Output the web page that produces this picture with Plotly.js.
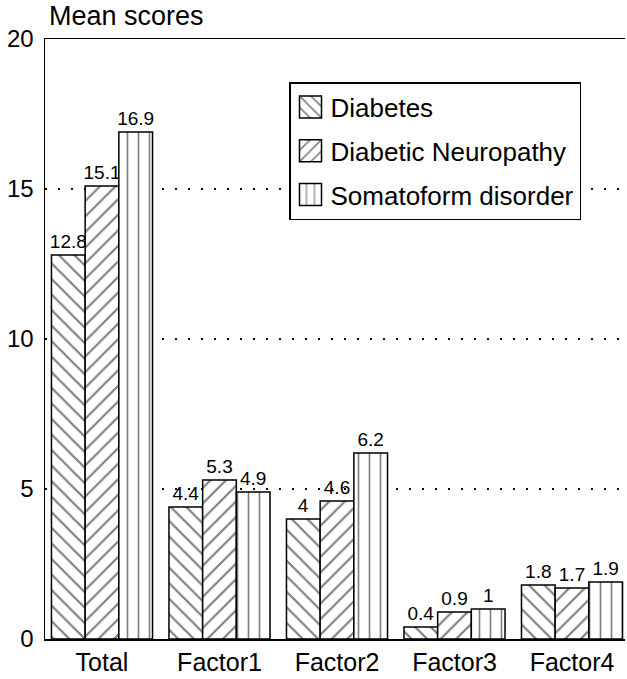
<!DOCTYPE html>
<html>
<head>
<meta charset="utf-8">
<script src="https://cdn.plot.ly/plotly-3.0.1.min.js"></script>
<style>html,body{margin:0;padding:0;background:#fff;}#chart{width:627px;height:679px;}</style>
</head>
<body>
<div id="chart"></div>
<script>
var categories = ['Total', 'Factor1', 'Factor2', 'Factor3', 'Factor4'];
var diabetes = [12.8, 4.4, 4, 0.4, 1.8];
var neuropathy = [15.1, 5.3, 4.6, 0.9, 1.7];
var somatoform = [16.9, 4.9, 6.2, 1, 1.9];
var seriesNames = ['Diabetes', 'Diabetic Neuropathy', 'Somatoform disorder'];
var yTicks = [0, 5, 10, 15, 20];

var FONT = 'Liberation Sans, Arial, sans-serif';
function bar(name, vals, shape, size, sol) {
  return {
    type: 'bar', name: name, x: categories, y: vals,
    text: vals.map(String), textposition: 'outside',
    textfont: {family: FONT, size: 19, color: '#000'},
    constraintext: 'none', cliponaxis: false,
    legendgroup: name,
    marker: {
      color: '#fff',
      line: {color: '#000', width: 1.5},
      pattern: {shape: shape, fgcolor: '#000', bgcolor: '#fff', size: size, solidity: sol, fillmode: 'overlay'}
    },
    hoverinfo: 'skip'
  };
}
var data = [
  bar(seriesNames[0], diabetes, '\\', 11, 0.2),
  bar(seriesNames[1], neuropathy, '/', 11, 0.2),
  bar(seriesNames[2], somatoform, '|', 11, 0.15)
];
var layout = {
  width: 627, height: 679,
  margin: {l: 45, r: 2, t: 39, b: 40},
  paper_bgcolor: '#fff', plot_bgcolor: '#fff',
  barmode: 'group', bargap: 0.14, bargroupgap: 0,
  font: {family: FONT, color: '#000'},
  title: {text: 'Mean scores', font: {family: FONT, size: 27, color: '#000'},
          xref: 'container', x: 49/627, xanchor: 'left', yref: 'container', y: 1 - 16/679, yanchor: 'middle'},
  xaxis: {
    range: [-0.485, 4.451], showline: true, mirror: true, linecolor: '#000', linewidth: 1.5,
    showgrid: false, zeroline: false, ticks: '', tickfont: {family: FONT, size: 25, color: '#000'},
    ticklabelstandoff: 0, fixedrange: true
  },
  yaxis: {
    range: [0, 20], tickvals: yTicks, ticktext: yTicks.map(String), showline: true, linecolor: '#000', linewidth: 1.5,
    showgrid: true, gridcolor: '#000', gridwidth: 1.5, griddash: '2px,11px', zeroline: false, ticks: '',
    tickfont: {family: FONT, size: 24, color: '#000'}, ticklabelstandoff: 5, fixedrange: true
  },
  showlegend: true,
  legend: {
    x: (289 - 45) / 580, y: (639 - 82) / 600, xanchor: 'left', yanchor: 'top',
    bordercolor: '#000', borderwidth: 1.5, bgcolor: '#fff',
    font: {family: FONT, size: 26, color: '#000'},
    traceorder: 'grouped', tracegroupgap: 7
  }
};
Plotly.newPlot('chart', data, layout, {displayModeBar: false, staticPlot: true}).then(function () {
  document.querySelectorAll('.legend .legendpoints path').forEach(function (p) {
    p.setAttribute('d', 'M11,11H-11V-11H11Z');
  });
});
</script>
</body>
</html>
